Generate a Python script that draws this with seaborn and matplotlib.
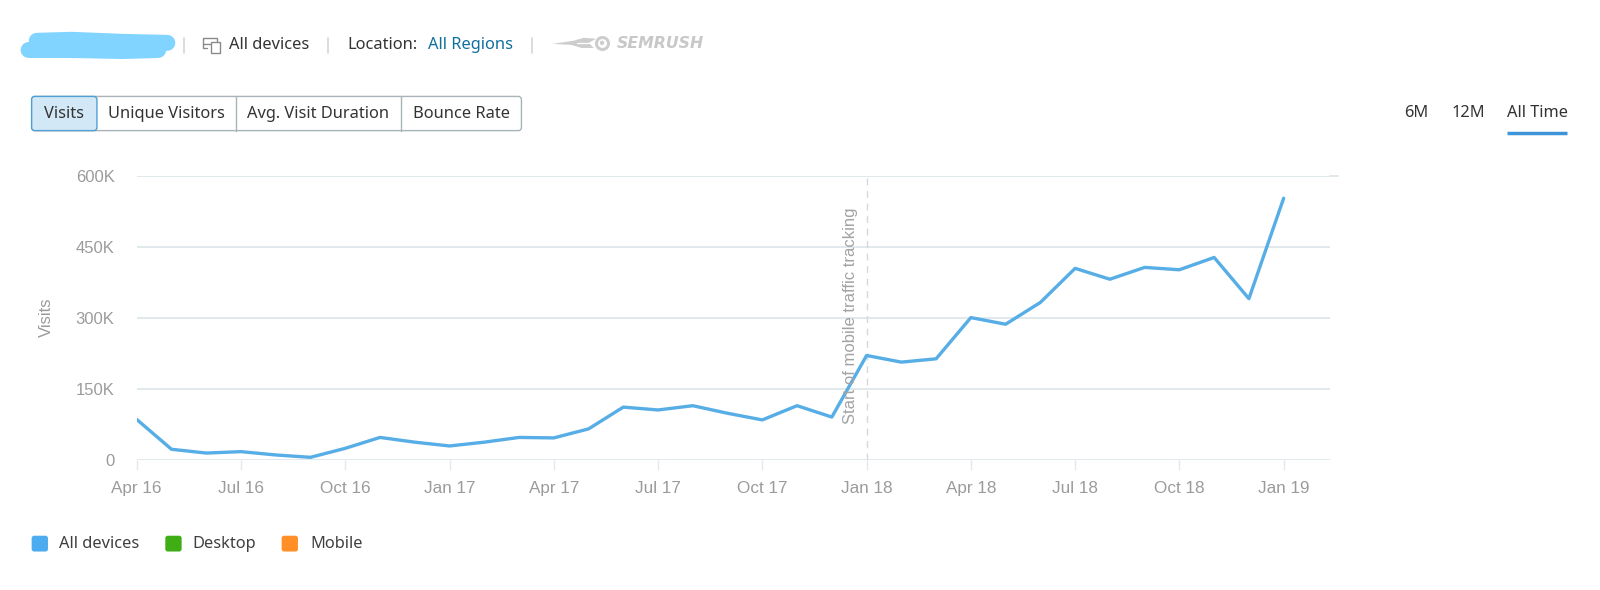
import matplotlib
matplotlib.use("Agg")
import matplotlib.pyplot as plt
import pandas as pd
import seaborn as sns
from matplotlib.patches import FancyBboxPatch, Polygon, Rectangle

months = ["Apr 16", "May 16", "Jun 16", "Jul 16", "Aug 16", "Sep 16", "Oct 16", "Nov 16", "Dec 16",
          "Jan 17", "Feb 17", "Mar 17", "Apr 17", "May 17", "Jun 17", "Jul 17", "Aug 17", "Sep 17",
          "Oct 17", "Nov 17", "Dec 17", "Jan 18", "Feb 18", "Mar 18", "Apr 18", "May 18", "Jun 18",
          "Jul 18", "Aug 18", "Sep 18", "Oct 18", "Nov 18", "Dec 18", "Jan 19"]
visits = [85, 22, 14, 17, 10, 5, 24, 47, 37,
          29, 37, 47, 46, 65, 111, 105, 114, 98,
          84, 114, 90, 220, 206, 213, 300, 286, 332,
          404, 381, 406, 401, 427, 340, 552]
y_ticks = [0, 150, 300, 450, 600]
y_labels = ["0", "150K", "300K", "450K", "600K"]
tracking_start = "Jan 18"

sns.set_theme(style="white")
plt.rcParams["font.family"] = ["Liberation Sans", "DejaVu Sans"]
ui_font = ["Noto Sans", "DejaVu Sans"]
# layout numbers below were read on a 1568 wide view of the 1600 px image
W, H = 1568, 578.2
grid_col = "#e2e9ec"

df = pd.DataFrame({"idx": range(len(months)), "month": months, "visits": visits})

fig = plt.figure(figsize=(16, 5.9), dpi=100, facecolor="white")
ax = fig.add_axes([134 / W, 1 - 450.5 / H, (1303 - 134) / W, (450.5 - 172) / H])
sns.lineplot(data=df, x="idx", y="visits", color="#57ade6", linewidth=2.4, ax=ax)
ax.set_xlim(0, (1303 - 134) / 34.06)
ax.set_ylim(0, 600)
ax.set_yticks(y_ticks, y_labels)
ax.set_xticks(df["idx"][::3], df["month"][::3])
ax.set_xlabel("")
ax.set_ylabel("Visits", color="#9b9b9b", fontsize=12)
ax.yaxis.set_label_coords((53 - 134) / (1303 - 134), 0.5)
ax.grid(axis="y", color=grid_col, linewidth=1.4)
ax.set_axisbelow(True)
for s in ax.spines.values():
    s.set_visible(False)
ax.tick_params(axis="y", length=0, labelsize=12, labelcolor="#9b9b9b", pad=16)
ax.tick_params(axis="x", bottom=True, length=7, width=1, color=grid_col, labelsize=12.3,
               labelcolor="#9b9b9b", pad=8)
# top grid line runs a bit longer than the rest
ax.axhline(y_ticks[-1], xmin=1, xmax=1 + 8 / (1303 - 134), color=grid_col, linewidth=1.4, clip_on=False)

mark = months.index(tracking_start)
ax.axvline(mark, color="#d3dadd", linewidth=1, dashes=(5, 4), zorder=1)
ax.text(mark - 0.47, 303, "Start of mobile traffic tracking", rotation=90, ha="center", va="center",
        fontsize=12, color="#a3a3a3")

# page chrome above and below the plot, in pixel coordinates
ui = fig.add_axes([0, 0, 1, 1], facecolor="none")
ui.set_xlim(0, W)
ui.set_ylim(H, 0)
ui.axis("off")


def label(x, y, s, size=11.8, color="#333333", **kw):
    ui.text(x, y, s, fontsize=size, color=color, family=ui_font, va="center", **kw)


# scribbled-out site name
ui.plot([36, 70, 120, 164], [40, 39, 41, 42], color="#80d4ff", lw=11.5, solid_capstyle="round")
ui.plot([28, 70, 120, 155], [49, 49, 50, 49], color="#80d4ff", lw=11.5, solid_capstyle="round")
ui.plot([60, 72], [52, 53], color="#80d4ff", lw=6, solid_capstyle="round")

for x in [180, 321, 521]:
    ui.plot([x, x], [37, 52], color="#d6d6d6", lw=1.2)

# devices icon
ui.plot([203, 199, 199, 213, 213], [47, 47, 37, 37, 41], color="#8a8a8a", lw=1)
ui.plot([199, 206], [43, 43], color="#8a8a8a", lw=1)
ui.add_patch(Rectangle((207, 41), 9, 11, fc="white", ec="#8a8a8a", lw=1))
label(224, 44, "All devices")
label(340, 44, "Location:")
label(419, 44, "All Regions", color="#0e6f9e")

# logo
wing = "#cdcdcd"
ui.add_patch(Polygon([(541, 43), (562, 40), (572, 37), (584, 38), (577, 42), (582, 47), (570, 47), (560, 44)],
                     fc=wing, ec="none"))
ui.plot([565, 580], [42, 42], color="white", lw=0.9)
ui.scatter([590], [42], s=75, fc="white", ec=wing, lw=2.2, zorder=3)
ui.scatter([590], [42], s=10, fc=wing, ec="none", zorder=4)
ui.text(604, 42.5, "SEMRUSH", fontsize=11.3, color="#c8c8c8", style="italic", weight="bold",
        family=["DejaVu Sans"], va="center")

# metric tabs
tabs = [("Visits", 31, 95), ("Unique Visitors", 95, 231), ("Avg. Visit Duration", 231, 393), ("Bounce Rate", 393, 511)]
ui.add_patch(FancyBboxPatch((31, 94.5), 480, 33.5, boxstyle="round,pad=0,rounding_size=3",
                            fc="white", ec="#a9b4b8", lw=1))
ui.add_patch(FancyBboxPatch((31, 94.5), 64, 33.5, boxstyle="round,pad=0,rounding_size=3",
                            fc="#d2e8f6", ec="#4f9fd2", lw=1))
for name, x0, x1 in tabs:
    if x0 > 95:
        ui.plot([x0, x0], [94.5, 128], color="#a9b4b8", lw=1)
    label((x0 + x1) / 2, 111.5, name, ha="center")

# range switch
label(1388, 111, "6M", ha="center")
label(1439, 111, "12M", ha="center")
label(1507, 111, "All Time", ha="center")
ui.plot([1477, 1536], [130.5, 130.5], color="#3d94d6", lw=2.5, solid_capstyle="butt")

# legend
for x, tx, name, col in [(31, 58, "All devices", "#4dabf0"), (162, 189, "Desktop", "#3fae14"),
                         (276, 304, "Mobile", "#ff8f26")]:
    ui.add_patch(FancyBboxPatch((x, 525), 16, 15.5, boxstyle="round,pad=0,rounding_size=2.5",
                                fc=col, ec="none"))
    label(tx, 533, name, color="#3f3f3f")

fig.savefig("out.png", dpi=100)
